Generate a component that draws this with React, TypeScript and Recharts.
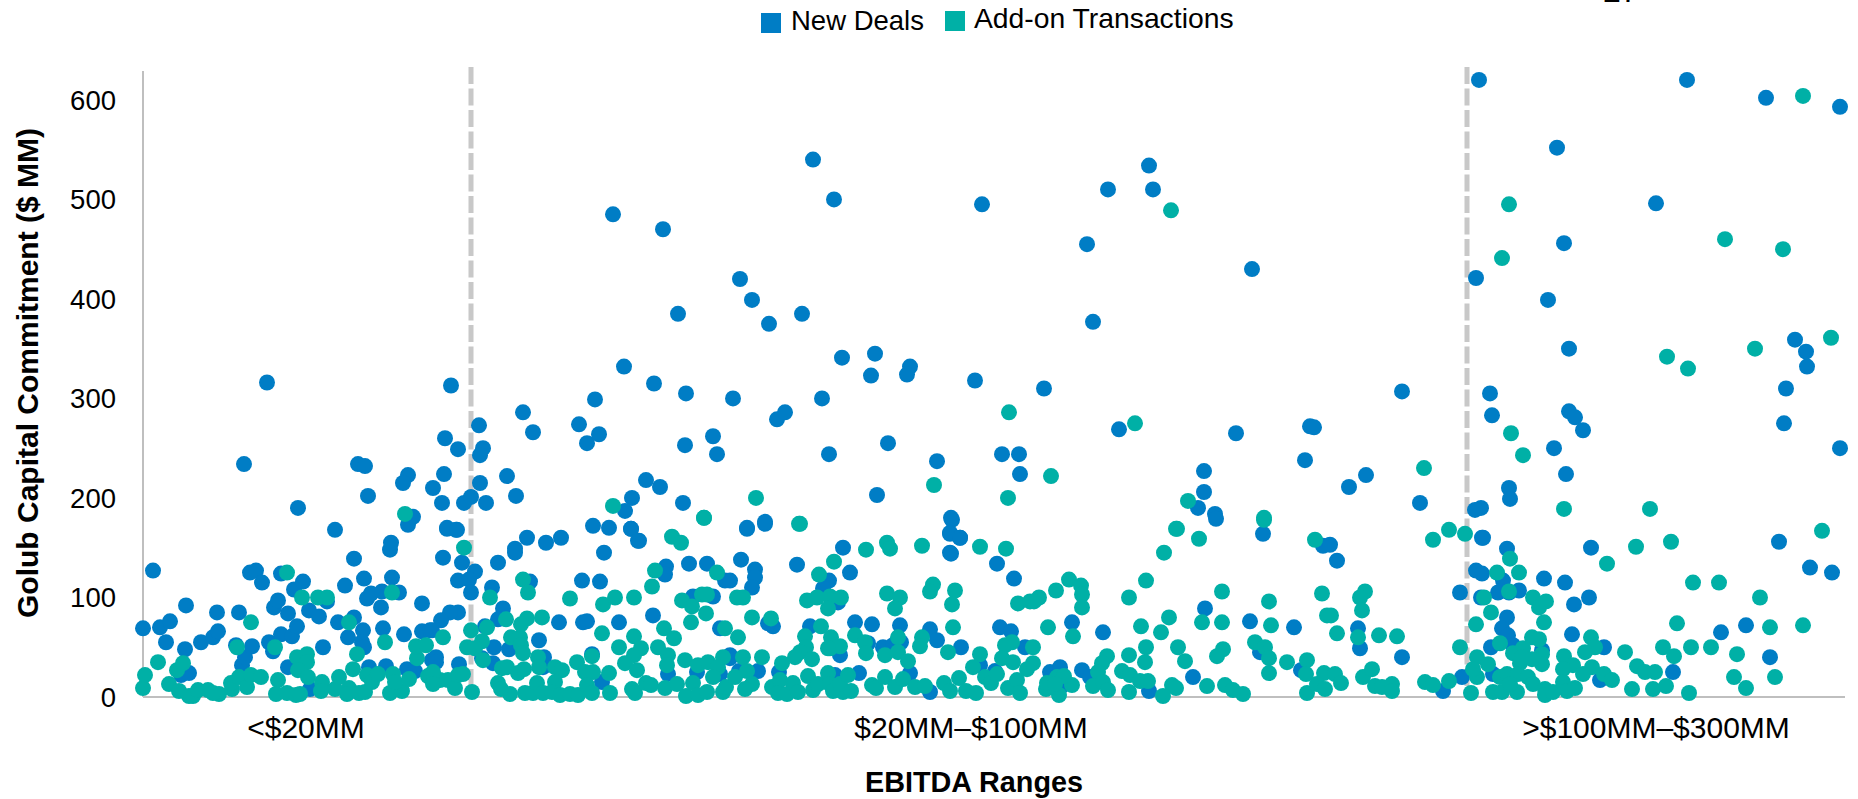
import { ScatterChart, Scatter, XAxis, YAxis, ReferenceLine, Legend } from 'recharts';

const FONT = '"Liberation Sans", Arial, sans-serif';
const BLUE = '#007DC5';
const TEAL = '#00B0A6';

// EBITDA bands along the x axis (position = deal order, left to right)
const bandLabels = ['<$20MM', '$20MM–$100MM', '>$100MM–$300MM'];
const bandTicks = [163, 828, 1513];
const bandEdges = [328, 1324];
const yTicks = [0, 100, 200, 300, 400, 500, 600];

// [position, commitment $MM]
const newDeals: number[][] = [
  [10,127],[0,69],[17,70],[27,76],[23,55],[43,92],[42,48],[58,55],[70,60],[75,66],[74,85],[96,85],[38,22],[46,24],[93,52],[99,32],[102,40],[109,51],
  [107,125],[113,127],[119,115],[138,124],[151,108],[160,116],[131,90],[135,97],[145,84],[126,55],[130,46],[138,63],[149,61],[154,71],[180,50],[145,30],
  [166,87],[176,81],[184,96],[202,112],[195,75],[211,80],[205,60],[220,67],[240,69],[261,63],[279,66],[287,67],[219,55],[221,50],[221,119],[211,139],
  [192,168],[247,148],[248,155],[249,120],[238,90],[224,99],[228,104],[239,106],[256,105],[279,94],[265,173],[270,181],[226,30],[243,31],[264,28],[272,26],[167,8],[289,37],
  [101,234],[215,234],[222,232],[225,202],[155,190],[265,223],[260,215],[301,224],[290,210],[302,260],[315,249],[299,195],[336,273],[340,250],[337,243],[337,215],
  [321,195],[328,201],[343,195],[364,222],[373,202],[380,286],[390,266],[436,274],[444,255],[456,264],[452,299],[304,169],[313,168],[124,316],[308,313],[470,485],[481,332],
  [304,170],[314,168],[300,140],[319,135],[332,126],[315,117],[326,118],[328,105],[355,135],[349,110],[372,149],[372,145],[384,160],[403,155],[418,160],[450,172],[466,170],[488,169],
  [496,157],[461,145],[387,116],[439,117],[457,116],[523,131],[522,123],[546,134],[564,134],[582,117],[360,89],[355,78],[342,71],[315,85],[307,85],[298,77],[289,67],[416,75],[440,75],[444,76],
  [476,75],[510,82],[550,101],[570,101],[577,69],[396,57],[351,50],[366,48],[401,40],[400,30],[293,40],[293,35],[316,33],[339,39],[350,34],[449,43],[459,15],[554,25],[525,23],[577,23],[587,42],
  [604,169],[622,174],[700,150],[598,138],[612,128],[612,120],[609,110],[587,117],[654,133],[707,125],[686,117],[680,109],[695,95],[807,164],[817,160],[807,145],[809,178],[854,134],[871,119],
  [630,71],[625,74],[667,71],[712,75],[729,73],[757,72],[787,68],[794,57],[818,50],[857,70],[868,66],[882,50],[740,50],[750,52],[758,55],[697,42],[725,54],[716,24],[615,26],[636,25],[596,26],[587,39],[692,22],[767,24],[787,5],[837,32],[852,26],
  [670,540],[691,500],[520,470],[839,495],[1006,534],[965,510],[1010,510],[944,455],[950,377],[597,420],[609,399],[535,385],[626,375],[659,385],[699,341],[732,345],[728,323],[767,332],[764,324],[832,318],[901,310],[511,315],[543,305],[590,300],[679,300],
  [634,279],[642,286],[570,262],[542,253],[574,244],[686,244],[745,255],[794,237],[859,244],[876,244],[877,224],[976,269],[1093,265],[1061,227],[1061,206],[1055,190],[1072,184],[734,203],[808,180],[807,165],[817,160],[808,144],[503,218],[517,211],[489,200],[482,187],[540,195],[622,176],[604,170],[488,169],[495,157],
  [1120,164],[1073,179],[1180,152],[1062,89],[1107,76],[1151,70],[929,75],[960,65],[907,25],[917,30],[939,27],[947,20],[1050,20],[1006,6],[920,12],[1117,45],[1158,27],
  [1194,137],[1187,153],[1339,160],[1364,149],[1448,150],[1333,127],[1339,124],[1401,119],[1422,115],[1317,105],[1355,105],[1360,117],[1366,105],[1376,107],[1338,100],[1446,100],[1431,93],[1364,80],[1359,69],[1365,62],[1429,63],[1215,69],[1217,49],[1259,40],[1348,50],[1370,52],[1399,47],[1461,50],[1319,20],[1300,6],[1457,17],[1350,23],
  [1636,156],[1667,130],[1689,125],[1578,65],[1603,72],[1627,40],[1530,25],
  [1336,620],[1544,620],[1623,602],[1697,593],[1414,552],[1513,496],[1421,456],[1333,421],[1405,399],[1426,350],[1652,359],[1663,347],[1664,332],[1643,310],[1109,430],[1259,307],[1347,305],
  [1349,283],[1426,287],[1432,281],[1440,268],[1411,250],[1423,224],[1366,210],[1367,199],[1338,190],[1332,188],[1340,160],[1167,272],[1171,271],[1162,238],[1206,211],[1223,223],[1277,195],[1641,275],[1697,250],
];

const addOns: number[][] = [
  [0,9],[2,22],[15,35],[26,13],[34,27],[40,34],[36,6],[46,1],[50,1],[55,7],[65,7],[76,3],[70,4],[89,8],[88,14],[96,20],[104,10],[108,22],[118,20],[108,75],[94,50],[132,50],[144,125],
  [135,17],[133,3],[144,4],[153,2],[157,3],[154,40],[164,43],[164,35],[155,27],[165,20],[179,15],[178,6],[192,8],[196,20],[206,9],[204,3],[216,4],[222,5],[224,22],[229,15],[235,23],[250,23],[247,4],[259,6],[252,15],[266,18],
  [210,28],[214,43],[242,55],[249,105],[159,100],[175,100],[184,100],[206,75],[274,39],[273,51],[283,52],[285,21],[262,184],[470,192],
  [321,150],[328,67],[300,60],[344,70],[324,50],[339,56],[332,49],[340,37],[329,5],[347,100],[380,118],[385,105],[427,99],[460,93],[472,100],[491,100],[509,111],[512,127],[529,161],[538,155],[561,180],[574,125],[539,97],[549,91],[559,103],[564,103],[563,84],[548,75],[521,69],[531,59],[582,69],[363,78],
  [384,79],[378,73],[399,80],[368,60],[377,60],[378,52],[380,44],[395,40],[396,30],[459,64],[476,50],[491,61],[498,49],[491,42],[482,34],[515,50],[525,42],[524,32],[542,37],[555,32],[565,35],[580,40],[575,30],
  [434,35],[449,41],[442,25],[450,25],[466,24],[412,30],[419,27],[412,15],[355,14],[359,29],[364,30],[375,24],[381,28],[367,3],[358,8],[382,4],[390,4],[394,14],[400,4],[409,5],[417,2],[427,3],[435,2],[444,12],[449,4],[467,4],[489,8],[492,4],[494,27],[503,14],[508,12],[522,9],[534,13],[543,1],[550,14],[555,2],[564,5],[570,20],[580,5],[583,10],
  [287,20],[297,17],[305,17],[312,9],[315,22],[320,23],[290,25],[290,13],
  [657,174],[723,148],[744,155],[747,149],[779,152],[837,151],[863,149],[691,136],[676,123],[594,100],[600,100],[664,97],[674,100],[687,101],[698,100],[685,89],[744,104],[757,100],[752,89],[790,113],[787,106],[812,107],[809,93],[875,94],[887,96],
  [609,80],[628,79],[595,60],[678,71],[662,61],[688,60],[712,62],[687,49],[697,51],[722,55],[723,44],[755,60],[779,60],[777,51],[810,70],[805,45],[600,40],[619,40],[663,50],[657,45],[652,40],[669,38],[639,34],[685,49],[742,42],[755,45],[765,36],[837,43],[830,30],[869,55],[862,52],[859,39],[870,35],[884,28],
  [604,26],[592,20],[609,13],[602,8],[629,10],[637,17],[635,4],[644,3],[650,14],[655,5],[665,21],[670,7],[675,13],[685,24],[687,13],[690,6],[700,5],[697,13],[705,22],[708,6],[729,12],[733,9],[742,20],[752,10],[760,18],[772,10],[782,11],[801,14],[807,6],[816,19],[823,6],[833,4],[842,20],[848,14],[854,23],[865,9],[874,17],[877,4],
  [866,286],[992,275],[908,222],[791,213],[865,200],[613,200],[561,180],[656,174],[1045,197],[1033,169],[1021,145],[1056,159],[1028,489],
  [1034,169],[1121,178],[1172,158],[1003,117],[986,100],[926,118],[913,107],[938,112],[939,103],[939,90],[896,100],[891,96],[1079,106],[1126,96],[1179,104],[1184,82],
  [905,70],[930,61],[998,71],[1026,80],[1018,65],[1059,75],[1079,75],[1128,72],[890,50],[890,34],[1003,50],[986,42],[1002,35],[1035,50],[1042,36],[1080,48],[1074,41],[1112,55],[1122,50],[1126,39],[1126,24],[1144,35],[1164,37],[1163,23],[1181,24],
  [964,41],[959,34],[955,25],[979,26],[987,22],[986,5],[997,16],[1005,16],[950,11],[960,15],[965,7],[929,12],[903,8],[904,14],[914,20],[921,21],[916,2],[912,13],[1029,12],[1033,9],[1020,1],[1064,11],[1082,12],[1090,7],[1100,3],[1164,4],[1174,13],[1182,8],
  [1322,164],[1306,168],[1290,158],[1367,139],[1354,125],[1376,125],[1464,134],[1366,106],[1341,100],[1390,100],[1396,90],[1403,96],[1222,106],[1217,100],[1219,87],[1194,64],[1188,82],[1348,85],[1401,75],[1333,73],[1215,60],[1236,62],[1254,61],[1317,50],[1357,54],[1389,60],[1396,58],[1448,60],[1452,50],[1442,45],[1482,45],[1421,41],[1399,43],[1399,33],[1370,44],[1380,49],[1334,40],[1345,33],[1430,32],[1420,28],[1449,30],[1440,23],[1461,23],[1469,17],
  [1192,23],[1198,14],[1220,20],[1229,28],[1232,11],[1239,10],[1249,13],[1249,6],[1282,15],[1290,12],[1306,16],[1328,4],[1334,20],[1330,28],[1350,5],[1359,5],[1357,20],[1364,23],[1377,34],[1375,23],[1385,20],[1390,13],[1374,5],[1367,13],[1402,8],[1402,2],[1410,5],[1420,15],[1424,6],[1432,9],[1489,8],[1389,38],[1379,40],
  [1679,167],[1528,156],[1493,151],[1550,115],[1576,115],[1617,100],[1534,74],[1627,70],[1660,72],[1520,50],[1548,50],[1568,50],[1531,41],[1594,43],[1494,31],[1502,25],[1512,25],[1591,20],[1632,20],[1510,8],[1523,11],[1546,4],[1603,9],
  [1660,604],[1366,495],[1359,441],[1582,460],[1640,450],[1688,361],[1612,350],[1524,342],[1545,330],[1368,265],[1380,243],[1421,189],[1507,189],[1281,230],[1121,180],
];

const toRows = (pairs: number[][]) => pairs.map(([position, commitment]) => ({ position, commitment }));

const Dot = (props: any) => <circle cx={props.cx} cy={props.cy} r={8} fill={props.fill} />;

function ChartLegend() {
  return (
    <div style={{ position: 'relative', height: 40, fontFamily: FONT, color: '#000' }}>
      <span style={{ position: 'absolute', left: 761, top: 13, width: 20, height: 20, background: BLUE }} />
      <span style={{ position: 'absolute', left: 791, top: 5, fontSize: 27.5, whiteSpace: 'nowrap' }}>New Deals</span>
      <span style={{ position: 'absolute', left: 945, top: 11, width: 20, height: 20, background: TEAL }} />
      <span style={{ position: 'absolute', left: 974, top: 2, fontSize: 28.3, whiteSpace: 'nowrap' }}>Add-on Transactions</span>
    </div>
  );
}

export default function App() {
  return (
    <div style={{ position: 'absolute', left: 0, top: 0, width: 1858, height: 799, overflow: 'hidden', background: '#fff' }}>
      <ScatterChart width={1858} height={799} margin={{ top: 31, right: 13, bottom: 0, left: 0 }}>
        <XAxis
          type="number"
          dataKey="position"
          domain={[0, 1702]}
          ticks={bandTicks}
          interval={0}
          tickFormatter={(v: number) => bandLabels[bandTicks.indexOf(v)]}
          tick={{ fontFamily: FONT, fontSize: 30, fill: '#000' }}
          tickLine={false}
          tickMargin={14}
          axisLine={{ stroke: '#BFBFBF', strokeWidth: 2 }}
          height={102}
          label={{ value: 'EBITDA Ranges', position: 'insideBottom', offset: 7, dx: -20, fontFamily: FONT, fontSize: 28.8, fontWeight: 700, fill: '#000' }}
        />
        <YAxis
          type="number"
          dataKey="commitment"
          domain={[0, 629]}
          ticks={yTicks}
          interval={0}
          width={143}
          tick={{ fontFamily: FONT, fontSize: 27.5, fill: '#000' }}
          tickLine={false}
          tickMargin={21}
          axisLine={{ stroke: '#BFBFBF', strokeWidth: 2 }}
          label={{ value: 'Golub Capital Commitment ($ MM)', angle: -90, position: 'insideLeft', offset: 27, dy: 234, fontFamily: FONT, fontSize: 30, fontWeight: 700, fill: '#000' }}
        />
        <Legend verticalAlign="top" wrapperStyle={{ position: 'absolute', left: 0, top: 0, width: 1858 }} content={() => <ChartLegend />} />
        <Scatter name="New Deals" data={toRows(newDeals)} fill={BLUE} shape={Dot} isAnimationActive={false} />
        <Scatter name="Add-on Transactions" data={toRows(addOns)} fill={TEAL} shape={Dot} isAnimationActive={false} />
        {bandEdges.map(x => (
          <ReferenceLine
            key={x}
            segment={[{ x, y: 633 }, { x, y: 0 }]}
            ifOverflow="visible"
            stroke="#C8C8C8"
            strokeWidth={5}
            strokeDasharray="17 4.5"
          />
        ))}
      </ScatterChart>
      {/* cropped page number at the top edge of the source image */}
      <svg width={1858} height={10} style={{ position: 'absolute', left: 0, top: 0 }}>
        <text x={1603} y={1.5} fontFamily={FONT} fontSize={32} fill="#000">27</text>
      </svg>
    </div>
  );
}
